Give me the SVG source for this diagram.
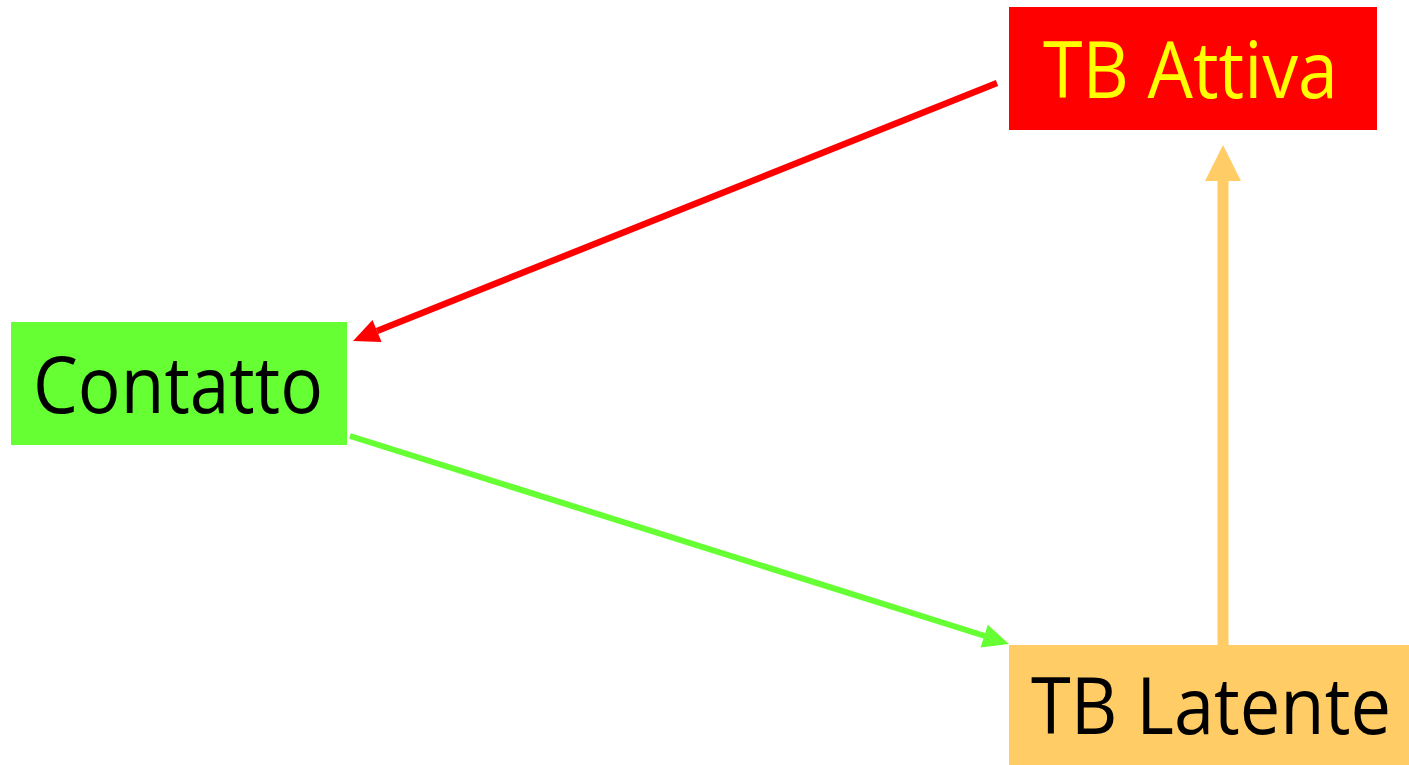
<svg xmlns="http://www.w3.org/2000/svg" width="1409" height="765" viewBox="0 0 1409 765">
<style>
text{font-family:"Open Sans","Noto Sans","DejaVu Sans",sans-serif;font-size:78px}
</style>
<rect width="1409" height="765" fill="#ffffff"/>
<g id="node-attiva">
<rect x="1009" y="7" width="368" height="123" fill="#ff0000"/>
<text x="1043" y="98" fill="#ffff00" textLength="295" lengthAdjust="spacingAndGlyphs">TB Attiva</text>
</g>
<g id="node-contatto">
<rect x="11" y="322" width="336" height="123" fill="#66ff33"/>
<text x="33" y="413" fill="#000000" textLength="290" lengthAdjust="spacingAndGlyphs">Contatto</text>
</g>
<g id="node-latente">
<rect x="1009" y="645" width="400" height="120" fill="#ffcc66"/>
<text x="1031" y="734" fill="#000000" textLength="360" lengthAdjust="spacingAndGlyphs">TB Latente</text>
</g>
<g id="connectors">
<line x1="997" y1="83" x2="377" y2="331" stroke="#ff0000" stroke-width="6.5"/>
<polygon points="353,341 372.5,320 381.6,342" fill="#ff0000"/>
<line x1="350" y1="436" x2="985" y2="636" stroke="#66ff33" stroke-width="6"/>
<polygon points="1009,644 987.8,624.8 980.6,647.6" fill="#66ff33"/>
<line x1="1223" y1="645" x2="1223" y2="178" stroke="#ffcc66" stroke-width="11"/>
<polygon points="1223,145 1241,181 1205,181" fill="#ffcc66"/>
</g>
</svg>
